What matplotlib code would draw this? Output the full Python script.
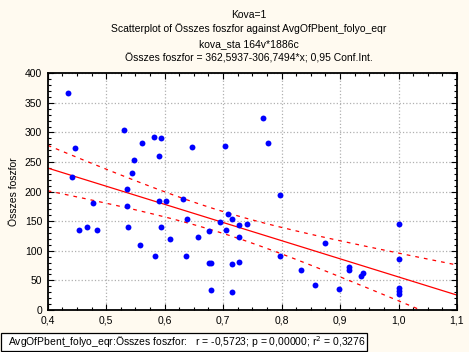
import numpy as np
import matplotlib
matplotlib.use("Agg")
import matplotlib.pyplot as plt
from matplotlib.ticker import MultipleLocator, FuncFormatter
from matplotlib.patches import Rectangle

plt.rcParams['font.family'] = ['Liberation Sans', 'DejaVu Sans']

# data
avg_pbent = [0.434, 0.446, 0.442, 0.531, 0.562, 0.582, 0.594, 0.591, 0.548, 0.545,
             0.536, 0.478, 0.536, 0.591, 0.603, 0.454, 0.468, 0.485, 0.538, 0.594,
             0.610, 0.558, 0.584, 0.769, 0.646, 0.704, 0.776, 0.798, 0.632, 0.709,
             0.639, 0.716, 0.695, 0.728, 0.740, 0.705, 0.676, 0.657, 0.728, 0.637,
             0.676, 0.680, 0.716, 0.728, 0.680, 0.716, 0.798, 0.834, 1.000, 0.875,
             1.000, 0.916, 0.916, 0.935, 0.940, 0.858, 0.899, 1.000, 1.000, 1.000]
osszes_foszfor = [366, 273, 224, 304, 282, 293, 290, 260, 253, 231,
                  204, 180, 175, 184, 184, 136, 141, 136, 141, 140,
                  120, 109, 92, 324, 275, 277, 283, 195, 187, 162,
                  153, 153, 148, 143, 146, 135, 133, 123, 123, 91,
                  79, 79, 77, 81, 33, 30, 91, 67, 146, 114,
                  87, 73, 68, 57, 62, 42, 35, 37, 32, 27]

intercept = 362.5937
slope = -306.7494
t_crit = 2.0

titles = ["Kova=1",
          "Scatterplot of Összes foszfor against AvgOfPbent_folyo_eqr",
          "kova_sta 164v*1886c",
          "Összes foszfor = 362,5937-306,7494*x; 0,95 Conf.Int."]
stats_text = "AvgOfPbent_folyo_eqr:Összes foszfor:   r = -0,5723; p = 0,00000; r$^2$ = 0,3276"

x = np.array(avg_pbent)
y = np.array(osszes_foszfor)
n = len(x)
resid = y - (intercept + slope * x)
s = np.sqrt(np.sum(resid ** 2) / (n - 2))
sxx = np.sum((x - x.mean()) ** 2)

xs = np.linspace(0.4, 1.1, 200)
fit = intercept + slope * xs
hw = t_crit * s * np.sqrt(1 / n + (xs - x.mean()) ** 2 / sxx)

W, H = 469, 352
fig = plt.figure(figsize=(W / 100, H / 100), dpi=100)
fig.patch.set_facecolor('#fffaf0')
ax = fig.add_axes([47.7 / W, 1 - 310 / H, (457 - 47.7) / W, (310 - 73.3) / H])
ax.set_facecolor('white')

ax.plot(xs, fit, color='red', lw=0.9, zorder=2)
ax.plot(xs, fit + hw, color='red', lw=0.9, ls=(0, (3, 4)), zorder=2)
ax.plot(xs, fit - hw, color='red', lw=0.9, ls=(0, (3, 4)), zorder=2)
ax.scatter(x, y, s=18, color='#0000ff', zorder=3, linewidths=0)

ax.set_xlim(0.4, 1.1)
ax.set_ylim(0, 400)
ax.xaxis.set_major_locator(MultipleLocator(0.1))
ax.xaxis.set_minor_locator(MultipleLocator(0.025))
ax.yaxis.set_major_locator(MultipleLocator(50))
ax.yaxis.set_minor_locator(MultipleLocator(10))
ax.xaxis.set_major_formatter(FuncFormatter(lambda v, p: f"{v:.1f}".replace('.', ',')))
ax.yaxis.set_major_formatter(FuncFormatter(lambda v, p: f"{v:.0f}"))
ax.tick_params(which='both', direction='in', top=True, right=True, labelsize=7.5, pad=4)
ax.tick_params(which='major', length=4, width=0.8)
ax.tick_params(which='minor', length=2.5, width=0.8)
ax.grid(True, which='major', color='#b0b0b0', ls=':', lw=0.9)
for sp in ax.spines.values():
    sp.set_linewidth(1.3)

ax.set_ylabel("Összes foszfor", fontsize=7.5, labelpad=4)

ys = [15, 29, 44, 58]
for t, yy in zip(titles, ys):
    fig.text(0.53, 1 - yy / H, t, ha='center', va='center', fontsize=7.5)

fig.patches.append(Rectangle((1 / W, 1 / H), 366 / W, 18 / H, transform=fig.transFigure,
                             facecolor='white', edgecolor='black', lw=0.9))
fig.text(8 / W, 1 - 342 / H, stats_text, ha='left', va='center', fontsize=7.5)

fig.savefig("out.png", dpi=100, facecolor=fig.get_facecolor())
